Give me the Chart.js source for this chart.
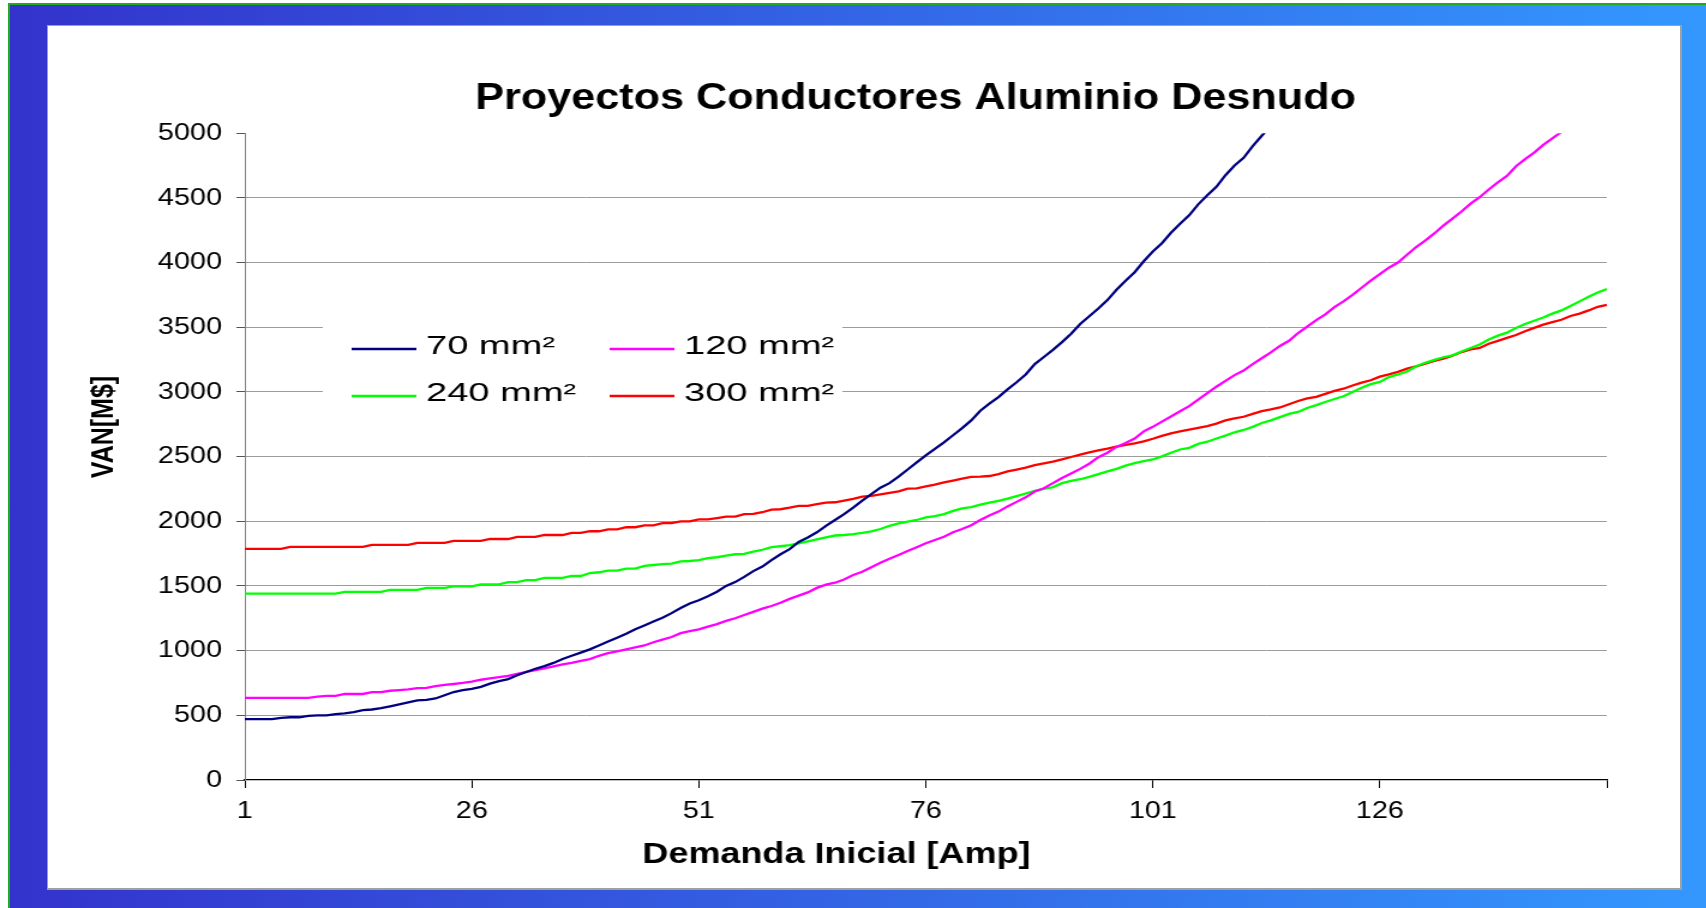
<!DOCTYPE html>
<html lang="es">
<head>
<meta charset="utf-8">
<title>Proyectos Conductores Aluminio Desnudo</title>
<script src="https://cdn.jsdelivr.net/npm/chart.js"></script>
<style>
  html, body { margin: 0; padding: 0; width: 1706px; height: 908px; overflow: hidden; background: #fff; }
  #marco {
    position: absolute; left: 8px; top: 3px; width: 1720px; height: 930px;
    border-top: 2px solid #22aa22; border-left: 2px solid #22aa22;
    background: linear-gradient(to right, #3333cc 0%, #3399ff 100%);
  }
  #panel {
    position: absolute; left: 47px; top: 25px; width: 1632px; height: 862px;
    background: #fff; border: 1px solid #a0a0a0; border-right-width: 2px; border-bottom-width: 2px;
  }
  /* el grafico original esta estirado en horizontal */
  #lienzo {
    position: absolute; left: 48px; top: 26px; width: 1446px; height: 862px;
    transform: scaleX(1.2); transform-origin: 0 0;
  }
</style>
</head>
<body>
<div id="marco"></div>
<div id="panel"></div>
<div id="lienzo"><canvas id="grafico"></canvas></div>

<script>
// Demanda inicial [Amp], 1 .. 151
const categorias = Array.from({ length: 151 }, (_, i) => String(i + 1));
const etiquetasX = ['1', '26', '51', '76', '101', '126'];
const marcasX = ['1', '26', '51', '76', '101', '126', '151'];
const valoresY = [0, 500, 1000, 1500, 2000, 2500, 3000, 3500, 4000, 4500, 5000];

const series = ['70 mm²', '120 mm²', '240 mm²', '300 mm²'];

// VAN [M$]
const van70 = [
  470, 470, 470, 470, 480, 485, 485, 495, 500, 500,
  510, 515, 525, 540, 545, 555, 570, 585, 600, 615,
  620, 630, 655, 680, 695, 705, 720, 745, 765, 780,
  810, 835, 860, 880, 905, 935, 960, 985, 1010, 1040,
  1070, 1100, 1130, 1165, 1195, 1225, 1255, 1290, 1330, 1365,
  1390, 1420, 1455, 1500, 1530, 1570, 1615, 1650, 1700, 1745,
  1785, 1840, 1875, 1915, 1965, 2010, 2055, 2105, 2160, 2210,
  2260, 2295, 2345, 2400, 2455, 2510, 2560, 2610, 2665, 2720,
  2780, 2855, 2910, 2960, 3020, 3075, 3135, 3215, 3270, 3325,
  3385, 3450, 3525, 3585, 3645, 3710, 3790, 3860, 3925, 4010,
  4085, 4150, 4230, 4300, 4365, 4450, 4520, 4585, 4675, 4750,
  4810, 4900, 4980, 5060
];

const van120 = [
  635, 635, 635, 635, 635, 635, 635, 635, 645, 650,
  650, 665, 665, 665, 680, 680, 690, 695, 700, 710,
  712, 725, 735, 742, 750, 760, 775, 785, 795, 805,
  820, 835, 850, 863, 878, 893, 905, 920, 935, 960,
  980, 995, 1010, 1025, 1040, 1065, 1085, 1105, 1135, 1150,
  1165, 1185, 1205, 1230, 1250, 1275, 1300, 1325, 1345, 1370,
  1400, 1425, 1450, 1485, 1510, 1525, 1550, 1585, 1610, 1645,
  1680, 1710, 1740, 1770, 1800, 1830, 1855, 1880, 1915, 1940,
  1970, 2010, 2045, 2075, 2115, 2150, 2185, 2230, 2255, 2295,
  2335, 2370, 2405, 2445, 2495, 2530, 2575, 2605, 2640, 2695,
  2730, 2770, 2810, 2850, 2890, 2940, 2990, 3040, 3085, 3130,
  3165, 3215, 3260, 3305, 3355, 3395, 3455, 3505, 3555, 3600,
  3655, 3700, 3750, 3805, 3860, 3910, 3960, 4000, 4060, 4120,
  4170, 4225, 4285, 4340, 4395, 4455, 4505, 4565, 4620, 4670,
  4745, 4800, 4850, 4910, 4960, 5010, 5070
];

const van240 = [
  1440, 1440, 1440, 1440, 1440, 1440, 1440, 1440, 1440, 1440,
  1440, 1455, 1455, 1455, 1455, 1455, 1470, 1470, 1470, 1470,
  1485, 1485, 1485, 1497, 1497, 1497, 1512, 1512, 1512, 1530,
  1530, 1545, 1545, 1562, 1562, 1562, 1577, 1577, 1600, 1606,
  1619, 1619, 1634, 1634, 1655, 1662, 1668, 1672, 1690, 1693,
  1700, 1715, 1722, 1735, 1745, 1748, 1765, 1780, 1800, 1807,
  1815, 1830, 1845, 1860, 1876, 1890, 1894, 1900, 1910, 1922,
  1940, 1965, 1983, 1998, 2010, 2030, 2040, 2055, 2080, 2100,
  2110, 2128, 2145, 2158, 2175, 2195, 2215, 2235, 2250, 2263,
  2295, 2312, 2325, 2343, 2365, 2386, 2405, 2430, 2450, 2465,
  2478, 2502, 2530, 2555, 2568, 2598, 2615, 2640, 2662, 2688,
  2706, 2730, 2760, 2780, 2805, 2830, 2845, 2876, 2898, 2922,
  2945, 2966, 3000, 3032, 3060, 3077, 3115, 3135, 3158, 3198,
  3225, 3248, 3268, 3283, 3313, 3340, 3366, 3405, 3435, 3458,
  3495, 3525, 3550, 3575, 3605, 3630, 3665, 3700, 3735, 3768,
  3795
];

const van300 = [
  1786, 1786, 1786, 1786, 1786, 1802, 1802, 1802, 1802, 1802,
  1802, 1802, 1802, 1802, 1817, 1817, 1817, 1817, 1817, 1833,
  1833, 1833, 1833, 1848, 1848, 1848, 1848, 1863, 1863, 1863,
  1879, 1879, 1879, 1894, 1894, 1894, 1910, 1910, 1923, 1923,
  1938, 1938, 1954, 1954, 1969, 1969, 1985, 1985, 2000, 2000,
  2015, 2015, 2025, 2036, 2036, 2055, 2057, 2070, 2090, 2093,
  2105, 2119, 2119, 2132, 2145, 2147, 2160, 2173, 2190, 2196,
  2208, 2220, 2232, 2252, 2255, 2270, 2283, 2300, 2315, 2330,
  2343, 2345, 2350, 2365, 2385, 2400, 2415, 2434, 2448, 2461,
  2478, 2497, 2515, 2532, 2548, 2562, 2578, 2590, 2602, 2618,
  2638, 2660, 2680, 2695, 2708, 2722, 2736, 2755, 2780, 2795,
  2808, 2830, 2852, 2865, 2880, 2905, 2930, 2950, 2962, 2985,
  3008, 3025, 3050, 3072, 3090, 3118, 3135, 3155, 3180, 3198,
  3218, 3240, 3258, 3280, 3308, 3328, 3340, 3372, 3395, 3418,
  3440, 3469, 3495, 3520, 3540, 3558, 3587, 3605, 3630, 3658,
  3672
];

const colores = ['#000080', '#ff00ff', '#00ff00', '#ff0000'];

Chart.defaults.font.family = "'Liberation Sans', Arial, sans-serif";
Chart.defaults.color = '#000';

// leyenda dentro del area de trazado y titulos de ejes, como en Excel
const rotulos = {
  id: 'rotulos',
  afterDraw(chart) {
    const ctx = chart.ctx;
    ctx.save();
    ctx.fillStyle = '#fff';
    ctx.fillRect(229, 290, 433, 102);

    const columnas = [253, 468];
    const filas = [323, 370];
    chart.data.datasets.forEach((ds, i) => {
      const x = columnas[i % 2];
      const y = filas[Math.floor(i / 2)];
      ctx.strokeStyle = ds.borderColor;
      ctx.lineWidth = 2.3;
      ctx.beginPath();
      ctx.moveTo(x, y);
      ctx.lineTo(x + 54, y);
      ctx.stroke();

      ctx.save();
      ctx.translate(x + 62, y - 2);
      ctx.scale(1.22, 1);
      ctx.fillStyle = '#000';
      ctx.font = "26px 'Liberation Sans', Arial, sans-serif";
      ctx.textBaseline = 'middle';
      ctx.fillText(ds.label, 0, 0);
      ctx.restore();
    });

    ctx.fillStyle = '#000';
    ctx.textAlign = 'center';
    ctx.textBaseline = 'middle';
    ctx.font = "bold 30px 'Liberation Sans', Arial, sans-serif";
    ctx.fillText('Demanda Inicial [Amp]', 657, 829);

    ctx.translate(47, 401);
    ctx.rotate(-Math.PI / 2);
    ctx.font = "bold 25px 'Liberation Sans', Arial, sans-serif";
    ctx.fillText('VAN[M$]', 0, 0);
    ctx.restore();
  }
};

new Chart(document.getElementById('grafico'), {
  type: 'line',
  data: {
    labels: categorias,
    datasets: [
      { label: series[0], data: van70, borderColor: colores[0] },
      { label: series[1], data: van120, borderColor: colores[1] },
      { label: series[2], data: van240, borderColor: colores[2] },
      { label: series[3], data: van300, borderColor: colores[3] }
    ]
  },
  options: {
    responsive: true,
    maintainAspectRatio: false,
    animation: false,
    events: [],
    layout: { padding: 0 },
    elements: {
      point: { radius: 0 },
      line: { borderWidth: 2.3, tension: 0 }
    },
    plugins: {
      legend: { display: false },
      tooltip: { enabled: false },
      title: {
        display: true,
        text: 'Proyectos Conductores Aluminio Desnudo',
        color: '#000',
        font: { size: 36, weight: 'bold' },
        padding: { top: 51, bottom: 13 }
      }
    },
    scales: {
      x: {
        grid: { drawOnChartArea: false, tickLength: 8, tickColor: '#000' },
        border: { color: '#000', width: 1.3 },
        ticks: {
          autoSkip: false,
          maxRotation: 0,
          padding: 9,
          font: { size: 24 },
          callback(v) {
            const l = this.getLabelForValue(v);
            return etiquetasX.includes(l) ? l : '';
          }
        },
        afterBuildTicks(scale) {
          scale.ticks = scale.ticks.filter(t => marcasX.includes(categorias[t.value]));
        },
        afterFit(scale) { scale.height = 108; }
      },
      y: {
        min: valoresY[0],
        max: valoresY[valoresY.length - 1],
        ticks: {
          stepSize: valoresY[1] - valoresY[0],
          padding: 12,
          font: { size: 24 },
          callback: v => String(v)
        },
        grid: {
          color: c => (c.tick.value === 0 || c.tick.value === 5000) ? 'rgba(0,0,0,0)' : '#9c9c9c',
          lineWidth: 1,
          tickLength: 7,
          tickColor: '#555'
        },
        border: { color: '#808080', width: 1 },
        afterFit(scale) { scale.width = 164; }
      },
      // eje vacio a la derecha para dejar el titulo centrado como en el original
      relleno: {
        type: 'linear',
        position: 'right',
        grid: { display: false },
        border: { display: false },
        ticks: { display: false },
        afterFit(scale) { scale.width = 147; }
      }
    }
  },
  plugins: [rotulos]
});
</script>
</body>
</html>
